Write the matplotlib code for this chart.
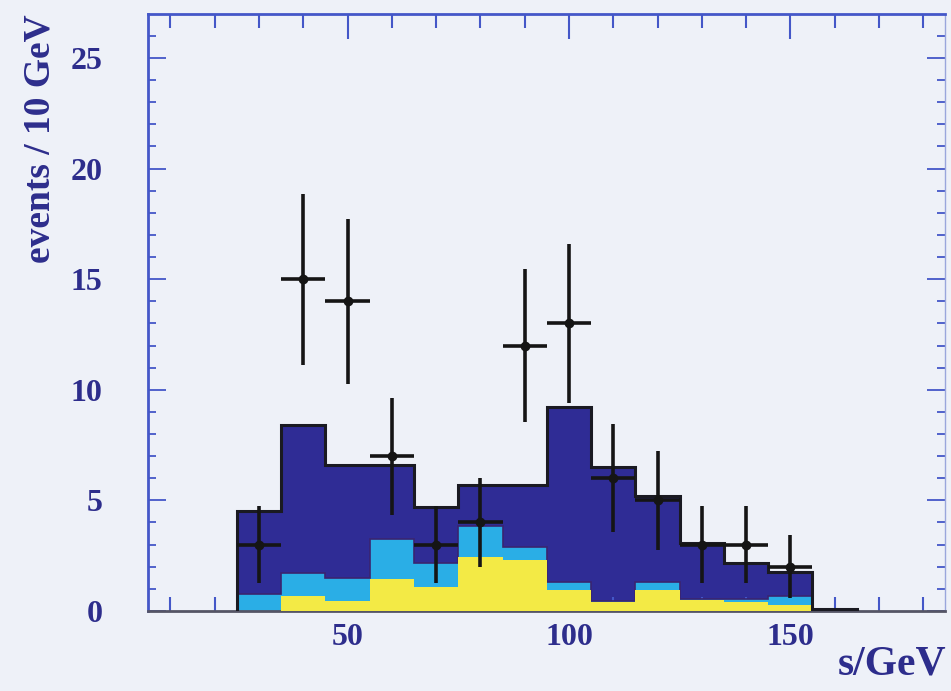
import numpy as np
import matplotlib
matplotlib.use('Agg')
import matplotlib.pyplot as plt

# histogram binning (10 GeV bins)
bin_edges = np.arange(25, 175, 10)

# stacked background contributions per bin
bkg_yellow = [0.0, 0.65, 0.45, 1.45, 1.1, 2.45, 2.3, 0.95, 0.4, 0.95, 0.5, 0.4, 0.25, 0.0]
bkg_cyan = [0.75, 1.05, 1.05, 1.8, 1.05, 1.4, 0.6, 0.35, 0.05, 0.35, 0.05, 0.15, 0.4, 0.0]
bkg_navy = [3.75, 6.7, 5.1, 3.35, 2.55, 1.85, 2.8, 7.9, 6.05, 3.9, 2.5, 1.6, 1.1, 0.1]

# observed events
data_x = [30, 40, 50, 60, 70, 80, 90, 100, 110, 120, 130, 140, 150]
data_n = [3, 15, 14, 7, 3, 4, 12, 13, 6, 5, 3, 3, 2]

text_color = '#2d2d8c'
axis_color = '#4457c8'
bg_color = '#eef1f8'

plt.rcParams['font.family'] = ['Liberation Serif', 'DejaVu Serif']
plt.rcParams['font.weight'] = 'bold'

fig = plt.figure(figsize=(9.51, 6.91), dpi=100, facecolor=bg_color)
ax = fig.add_axes([0.156, 0.116, 0.838, 0.864])
ax.set_facecolor(bg_color)

# cumulative stack tops
y1 = np.array(bkg_yellow)
y2 = y1 + np.array(bkg_cyan)
y3 = y2 + np.array(bkg_navy)

ax.stairs(y3, bin_edges, fill=True, color='#2f2c95', zorder=1)
ax.stairs(y2, bin_edges, fill=True, color='#2aaee6', zorder=2)
ax.stairs(y2, bin_edges, color='#3a2470', lw=1.2, zorder=2.5)
ax.stairs(y1, bin_edges, fill=True, color='#f3ea45', zorder=3)
ax.stairs(y3, bin_edges, color='#1a1a22', lw=2.2, zorder=4)

# data points with Poisson errors
ax.errorbar(data_x, data_n, yerr=np.sqrt(data_n), xerr=5, fmt='o',
            color='#151515', ms=6, elinewidth=2.6, capsize=0, zorder=5)

ax.set_xlim(5, 185)
ax.set_ylim(0, 27)

ax.set_xticks([50, 100, 150])
ax.set_xticks(np.arange(10, 185, 10), minor=True)
ax.set_yticks([0, 5, 10, 15, 20, 25])
ax.set_yticks(np.arange(0, 27, 1), minor=True)

ax.tick_params(axis='x', which='both', direction='in', top=True, bottom=True,
               color=axis_color, width=1.5)
ax.tick_params(axis='x', which='major', length=18, pad=9,
               labelsize=23, labelcolor=text_color)
ax.tick_params(axis='x', which='minor', length=10)
ax.tick_params(axis='y', which='both', direction='in', left=True, right=True,
               color=axis_color, width=1.3)
ax.tick_params(axis='y', which='major', length=13, pad=33,
               labelsize=23, labelcolor=text_color)
ax.tick_params(axis='y', which='minor', length=6)

for side in ('left', 'top'):
    ax.spines[side].set_color(axis_color)
    ax.spines[side].set_linewidth(2)
ax.spines['right'].set_color('#9aa6dc')
ax.spines['right'].set_linewidth(1)
ax.spines['bottom'].set_color('#555566')
ax.spines['bottom'].set_linewidth(2)

fig.text(0.042, 0.80, 'events / 10 GeV', rotation=90, ha='center', va='center',
         fontsize=27, color=text_color, fontweight='bold')
fig.text(0.995, 0.038, 's/GeV', ha='right', va='center',
         fontsize=30, color=text_color, fontweight='bold')

fig.savefig('out.png', dpi=100, facecolor=bg_color)
